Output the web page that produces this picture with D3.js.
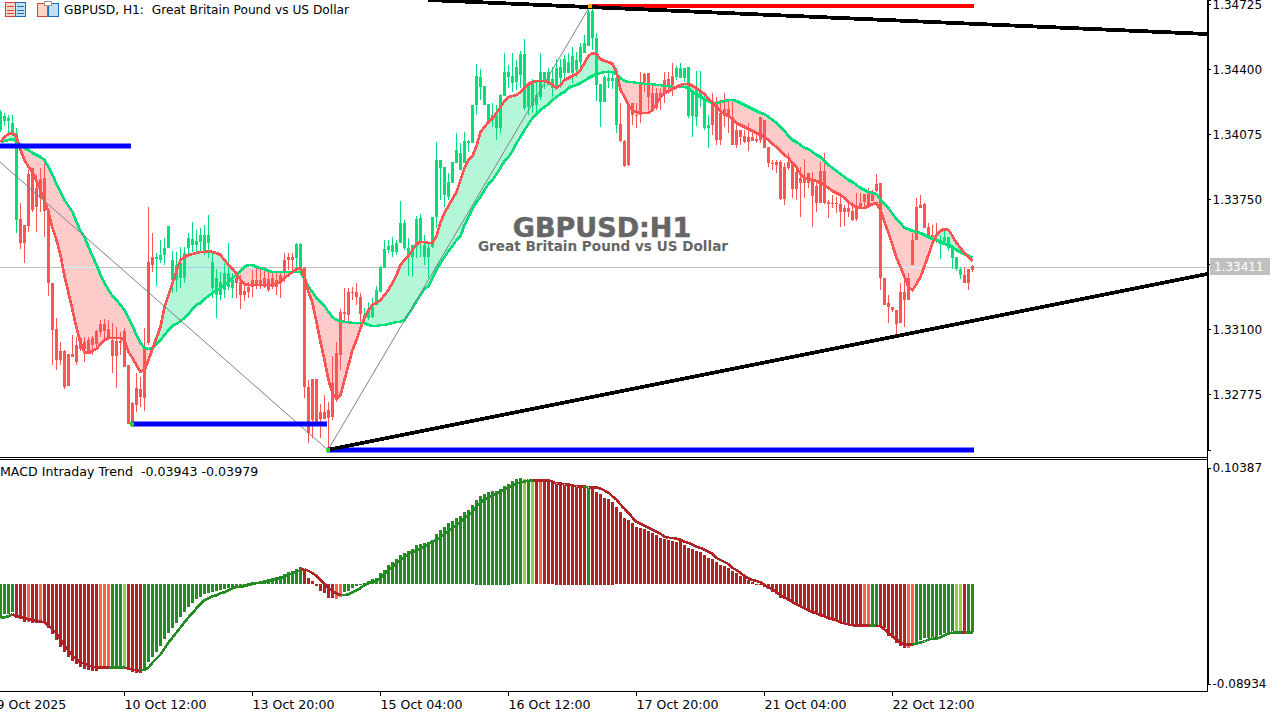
<!DOCTYPE html>
<html>
<head>
<meta charset="utf-8">
<title>GBPUSD H1</title>
<script src="https://d3js.org/d3.v7.min.js"></script>
<style>
  body { margin: 0; background: #fff; overflow: hidden; }
  svg { display: block; }
  text { font-family: "DejaVu Sans", sans-serif; font-size: 12px; fill: #000; white-space: pre; }
  .axis path, .axis line { stroke: #000; shape-rendering: crispEdges; }
  .axis text { font-family: "DejaVu Sans", sans-serif; font-size: 12px; fill: #000; }
</style>
</head>
<body>
<svg id="chart"></svg>
<script>
// price values are in points, 34725 means 1.34725
const highs = [
  34197,34182,34172,34172,34107,33732,33622,33897,33907,33872,33907,33957,33697,33332,33157,33037,
  32997,32977,33072,33062,33062,33062,33062,33067,33097,33147,33152,33147,33132,33112,33087,33107,
  32922,32737,32882,32862,33107,33712,33582,33482,33547,33557,33617,33492,33487,33512,33512,33582,
  33637,33597,33607,33622,33672,33482,33402,33387,33432,33532,33382,33392,33372,33337,33337,33397,
  33412,33412,33412,33402,33387,33387,33382,33482,33482,33482,33532,33532,33412,32847,32852,32852,
  32727,32772,32737,32967,33037,33202,33307,33307,33312,33332,33282,33207,33237,33257,33317,33417,
  33547,33547,33562,33547,33742,33647,33557,33522,33667,33677,33572,33537,33662,34037,33947,33912,
  33882,33937,34082,34032,34087,34047,34222,34427,34402,34317,34227,34232,34222,34277,34482,34422,
  34482,34447,34492,34552,34322,34352,34337,34482,34387,34407,34412,34452,34452,34472,34482,34512,
  34487,34532,34572,34697,34722,34582,34327,34372,34397,34382,34407,34232,34047,34227,34232,34232,
  34387,34382,34382,34332,34307,34307,34387,34387,34432,34417,34432,34407,34412,34297,34392,34392,
  34272,34172,34282,34262,34247,34282,34247,34237,34122,34097,34097,34132,34097,34072,34162,34147,
  34012,33947,33947,33947,33932,33982,33937,33912,33912,33952,33882,33887,33847,33937,33982,33747,
  33772,33762,33772,33722,33737,33737,33782,33782,33777,33807,33797,33877,33832,33357,33272,33212,
  33197,33332,33382,33382,33582,33757,33772,33732,33632,33622,33632,33572,33597,33562,33517,33462,
  33412,33412,33402,33422
];
const bodyTops = [
  34187,34167,34157,34132,34082,33652,33622,33877,33907,33807,33852,33857,33697,33332,33102,32992,
  32992,32977,32977,33022,33057,33037,33047,33057,33092,33127,33127,33102,33047,33042,33042,33092,
  32922,32732,32807,32802,33012,33437,33462,33462,33472,33507,33617,33447,33422,33432,33482,33557,
  33552,33542,33572,33572,33572,33437,33357,33337,33382,33382,33347,33357,33337,33292,33312,33347,
  33347,33347,33357,33352,33357,33347,33372,33447,33462,33462,33527,33527,33407,32812,32852,32852,
  32687,32687,32697,32832,32982,33187,33187,33287,33287,33287,33262,33172,33197,33212,33297,33412,
  33502,33517,33522,33532,33632,33632,33507,33522,33652,33657,33522,33507,33662,33947,33947,33912,
  33837,33937,33997,33982,34042,34042,34222,34367,34362,34317,34227,34172,34172,34272,34387,34387,
  34367,34412,34477,34477,34322,34337,34272,34387,34387,34387,34352,34407,34412,34452,34437,34467,
  34447,34512,34532,34687,34692,34557,34327,34362,34357,34357,34357,34127,34042,34227,34232,34172,
  34332,34377,34382,34282,34282,34282,34347,34352,34367,34407,34407,34407,34412,34297,34307,34292,
  34257,34122,34232,34237,34182,34202,34202,34162,34097,34097,34067,34062,34062,34052,34162,34147,
  34012,33932,33937,33937,33912,33937,33932,33887,33857,33857,33882,33842,33817,33892,33892,33737,
  33732,33732,33727,33707,33707,33692,33712,33732,33777,33777,33777,33827,33832,33357,33232,33212,
  33197,33287,33287,33357,33547,33712,33722,33727,33612,33572,33572,33547,33562,33562,33512,33462,
  33402,33372,33402,33417
];
const bodyBottoms = [
  34097,34142,34142,34082,33647,33532,33532,33617,33697,33712,33757,33692,33332,33097,32947,32947,
  32812,32817,32962,32937,33002,33002,32982,33022,33027,33087,33092,33062,32967,32967,33032,32912,
  32627,32627,32722,32762,32757,33032,33422,33452,33447,33472,33507,33347,33347,33357,33357,33507,
  33522,33522,33537,33492,33532,33307,33272,33272,33297,33312,33307,33332,33272,33272,33287,33312,
  33322,33322,33312,33297,33312,33312,33337,33382,33447,33447,33457,33407,32812,32582,32647,32637,
  32652,32652,32657,32662,32747,32972,33177,33172,33282,33262,33177,33157,33157,33162,33222,33287,
  33407,33497,33487,33487,33532,33507,33462,33462,33512,33532,33462,33462,33512,33662,33907,33772,
  33762,33832,33932,33897,33932,34032,34032,34222,34312,34222,34127,34147,34107,34107,34267,34362,
  34332,34337,34372,34207,34212,34217,34222,34262,34347,34322,34307,34312,34357,34382,34382,34382,
  34397,34437,34482,34517,34557,34322,34237,34237,34342,34342,34122,34042,33917,33922,34172,34167,
  34172,34337,34262,34197,34207,34257,34277,34322,34322,34362,34357,34357,34167,34167,34162,34257,
  34107,34107,34122,34047,34047,34167,34162,34022,34022,34062,34037,34037,34042,34042,34047,34007,
  33932,33927,33922,33752,33752,33907,33802,33802,33832,33832,33832,33767,33732,33732,33732,33727,
  33727,33727,33687,33687,33687,33647,33652,33712,33737,33722,33742,33792,33357,33222,33212,33197,
  33127,33132,33247,33247,33422,33547,33707,33607,33562,33562,33567,33527,33537,33507,33457,33402,
  33372,33332,33332,33397
];
const lows = [
  34087,34117,34082,34067,33582,33502,33432,33587,33687,33587,33687,33562,33267,32922,32897,32922,
  32802,32817,32962,32922,32992,32937,32982,32972,33012,33062,33047,33057,32882,32807,32972,32912,
  32627,32627,32687,32712,32692,33022,33387,33317,33432,33422,33507,33282,33287,33307,33332,33462,
  33487,33482,33487,33472,33457,33257,33157,33247,33257,33297,33257,33257,33202,33242,33257,33262,
  33302,33302,33307,33287,33302,33272,33257,33337,33397,33382,33397,33387,32757,32532,32557,32637,
  32557,32652,32497,32647,32737,32897,33132,33127,33247,33222,33137,33132,33147,33157,33222,33287,
  33407,33482,33462,33472,33532,33497,33367,33362,33457,33462,33422,33357,33507,33607,33747,33712,
  33747,33832,33932,33897,33932,33987,34032,34172,34247,34222,34127,34112,34047,34082,34267,34307,
  34287,34297,34307,34197,34172,34182,34167,34247,34302,34322,34262,34312,34307,34337,34382,34332,
  34362,34412,34482,34517,34497,34242,34112,34237,34307,34302,34082,34037,33912,33917,34122,34107,
  34132,34287,34197,34187,34197,34197,34232,34277,34267,34347,34357,34337,34157,34062,34117,34212,
  34097,34007,34072,34022,34022,34112,34082,34022,34007,34022,34032,33992,34042,34032,34032,34007,
  33912,33897,33882,33747,33722,33897,33757,33747,33662,33757,33807,33612,33687,33732,33727,33657,
  33707,33682,33612,33617,33662,33642,33642,33707,33712,33712,33742,33787,33297,33222,33132,33187,
  33072,33132,33112,33247,33422,33547,33707,33607,33562,33557,33532,33452,33537,33492,33402,33392,
  33352,33332,33297,33387
];
// bar index where the candle colour flips, starts green
const trendFlips = [5, 39, 59, 74, 76, 91, 155, 169, 178, 235, 241];

const fastLine = [
  34037,34062,34077,34082,34062,33997,33947,33912,33887,33842,33797,33742,33687,33607,33547,33472,
  33367,33282,33197,33107,33032,32987,32982,32992,33002,33027,33047,33057,33057,33057,33057,33047,
  32987,32957,32922,32887,32897,32947,33002,33057,33112,33212,33272,33332,33392,33447,33462,33472,
  33477,33482,33487,33487,33492,33487,33482,33472,33447,33422,33402,33377,33347,33327,33322,33322,
  33322,33322,33322,33322,33322,33327,33337,33357,33372,33387,33402,33407,33362,33287,33232,33137,
  33037,32947,32847,32782,32752,32772,32847,32922,32997,33047,33107,33157,33197,33222,33232,33247,
  33272,33297,33332,33372,33422,33447,33467,33497,33527,33537,33537,33532,33532,33567,33637,33682,
  33717,33752,33787,33847,33907,33947,33967,34017,34087,34112,34137,34157,34182,34212,34242,34262,
  34267,34272,34287,34307,34327,34337,34342,34342,34342,34337,34322,34307,34322,34347,34357,34367,
  34377,34397,34432,34467,34482,34477,34452,34442,34437,34427,34387,34297,34262,34222,34192,34187,
  34182,34182,34182,34197,34227,34262,34282,34292,34302,34312,34322,34327,34327,34317,34307,34292,
  34277,34252,34237,34212,34192,34177,34167,34152,34132,34122,34112,34102,34092,34082,34072,34062,
  34047,34027,34012,33992,33972,33957,33932,33912,33877,33857,33852,33847,33842,33832,33822,33807,
  33792,33782,33772,33757,33737,33722,33712,33707,33707,33717,33727,33732,33697,33637,33582,33522,
  33457,33412,33362,33312,33297,33327,33362,33417,33472,33532,33572,33592,33602,33597,33567,33532,
  33507,33482,33462,33442
];
const slowLine = [
  34037,34042,34047,34052,34042,34022,34007,33997,33982,33972,33962,33947,33912,33872,33827,33787,
  33747,33717,33687,33637,33592,33562,33512,33467,33422,33372,33332,33297,33267,33247,33222,33197,
  33157,33117,33072,33032,33007,33002,33007,33027,33047,33072,33097,33117,33127,33142,33157,33177,
  33202,33222,33232,33252,33267,33282,33292,33307,33322,33337,33357,33372,33392,33412,33422,33422,
  33412,33407,33402,33392,33387,33387,33387,33387,33387,33387,33387,33387,33352,33312,33287,33257,
  33237,33217,33187,33162,33147,33142,33137,33137,33132,33132,33132,33132,33122,33117,33117,33122,
  33122,33127,33132,33137,33137,33147,33177,33207,33242,33272,33302,33317,33357,33397,33432,33462,
  33492,33517,33547,33567,33622,33662,33702,33737,33762,33797,33827,33847,33877,33907,33942,33962,
  33992,34032,34062,34097,34127,34157,34177,34197,34212,34227,34247,34262,34277,34287,34307,34317,
  34322,34332,34342,34357,34367,34377,34382,34387,34387,34387,34377,34357,34342,34337,34337,34332,
  34332,34327,34327,34327,34322,34322,34317,34317,34312,34312,34312,34312,34307,34287,34272,34262,
  34252,34242,34232,34232,34237,34242,34247,34247,34242,34232,34222,34212,34202,34192,34182,34177,
  34162,34147,34132,34112,34092,34067,34047,34037,34022,34007,34002,33987,33972,33962,33942,33922,
  33907,33892,33877,33862,33847,33837,33822,33807,33797,33787,33782,33777,33747,33727,33707,33677,
  33652,33632,33607,33602,33592,33587,33582,33572,33562,33552,33547,33537,33527,33522,33512,33497,
  33487,33477,33467,33457
];

const lastPrice = 33411;
const priceTicks = [34725, 34400, 34075, 33750, 33425, 33100, 32775];
const timeTickBars = [-1, 31, 63, 95, 127, 159, 191, 223];
const timeTickLabels = ["9 Oct 2025", "10 Oct 12:00", "13 Oct 20:00", "15 Oct 04:00", "16 Oct 12:00", "17 Oct 20:00", "21 Oct 04:00", "22 Oct 12:00"];

// drawn objects, bar index and price
const blueLevels = [[-1, 32.75, 34017], [32.75, 81.75, 32627], [81.75, 243.5, 32497]];
const redLevels = [[147.5, 243.5, 34717]];
const trendLines = [[107, 34747, 301.75, 34577], [81.75, 32497, 301.75, 33377]];
const zigzagBars = [0, 82, 147.5];
const zigzagPrices = [33937, 32497, 34717];

// macd panel, values x 0.001
const histValues = [
  -30.6,-27,-27,-25.2,-30.6,-31.5,-34.2,-34.2,-35.1,-35.1,-34.2,-35.1,-39.6,-45,-50.4,-56.7,
  -61.2,-65.7,-69.3,-72,-73.8,-75.6,-76.5,-77.4,-77.4,-75.6,-75.6,-75.6,-74.7,-74.7,-74.7,-74.7,
  -76.5,-78.3,-79.2,-79.2,-76.5,-70.2,-65.7,-61.2,-55.8,-49.5,-44.1,-39.6,-35.1,-29.7,-25.2,-20.7,
  -17.1,-13.5,-11.7,-9,-8.1,-7.2,-6.3,-5.4,-4.5,-3.6,-2.7,-2.7,-1.8,-0.9,0.9,1.8,
  1.8,2.7,3.6,4.5,5.4,6.3,7.2,9,10.8,11.7,13.5,15.3,13.5,5.4,2.7,-1.8,
  -6.3,-8.1,-12.6,-12.6,-13.5,-11.7,-7.2,-6.3,-3.6,-1.8,-0.9,0.9,2.7,4.5,5.4,9.9,
  12.6,17.1,19.8,22.5,26.1,27.9,29.7,31.5,35.1,36,36.9,37.8,39.6,45,48.6,51.3,
  54.9,56.7,59.4,61.2,64.8,66.6,71.1,75.6,79.2,81,82.8,83.7,83.7,85.5,88.2,90,
  91.8,93.6,94.5,93.6,92.7,92.7,92.7,92.7,91.8,91.8,90.9,90,89.1,89.1,88.2,87.3,
  87.3,86.4,86.4,86.4,86.4,82.8,81,77.4,76.5,73.8,69.3,64.8,59.4,57.6,54.9,51.3,
  50.4,49.5,47.7,45.9,44.1,41.4,40.5,39.6,38.7,37.8,38.7,35.1,32.4,31.5,29.7,28.8,
  26.1,23.4,22.5,19.8,17.1,16.2,14.4,11.7,9.9,7.2,6.3,3.6,1.8,0.3,-0.3,-2.7,
  -4.5,-7.2,-9,-12.6,-13.5,-15.3,-16.2,-18.9,-20.7,-22.5,-23.4,-25.2,-27,-27.9,-29.7,-30.6,
  -32.4,-32.4,-34.2,-35.1,-36,-37.8,-37.8,-38.7,-36.9,-36.9,-36.9,-36.9,-38.7,-39.6,-46.8,-48.6,
  -53.1,-55.8,-57.6,-57.6,-54.9,-53.1,-50.4,-48.6,-48.6,-47.7,-47.7,-45.9,-44.1,-43.2,-42.3,-42.3,
  -42.3,-43.2,-43.2,-43.2
];
const signalValues = [
  -30.6,-29.7,-28.8,-27,-28.8,-29.7,-30.6,-31.5,-32.4,-33.3,-33.3,-34.2,-36.9,-40.5,-44.1,-49.5,
  -54.9,-59.4,-63.9,-67.5,-70.2,-71.1,-72.9,-73.8,-74.7,-74.7,-74.7,-74.7,-74.7,-74.7,-74.7,-74.7,
  -75.6,-76.5,-77.4,-77.4,-76.5,-74.7,-70.2,-66.6,-63,-57.6,-52.2,-47.7,-43.2,-38.7,-34.2,-29.7,
  -26.1,-21.6,-18,-14.4,-12.6,-10.8,-9.9,-8.1,-7.2,-5.4,-3.6,-2.7,-2.7,-1.8,-0.9,0,
  0.9,0.9,1.8,2.7,3.6,4.5,5.4,7.2,8.1,9.9,10.8,12.6,13.5,11.7,9.9,7.2,
  3.6,0,-3.6,-6.3,-8.1,-9.9,-9.9,-9,-7.2,-5.4,-3.6,-0.9,0.9,1.8,3.6,5.4,
  9,12.6,15.3,18.9,21.6,24.3,27,28.8,29.7,32.4,33.3,36,37.8,39.6,42.3,45,
  47.7,50.4,53.1,55.8,59.4,62.1,64.8,69.3,72.9,75.6,77.4,79.2,81,82.8,84.6,86.4,
  88.2,90,90.9,91.8,92.7,92.7,92.7,92.7,92.7,92.7,91.8,90,90,89.1,89.1,88.2,
  87.3,87.3,87.3,86.4,86.4,86.4,85.5,83.7,81.9,78.3,75.6,71.1,67.5,63.9,59.4,55.8,
  54,52.2,50.4,48.6,46.8,45,42.3,41.4,41.4,40.5,39.6,37.8,36.9,35.1,33.3,32.4,
  30.6,28.8,27,23.4,21.6,19.8,18,14.4,12.6,9.9,7.2,5.4,3.6,2.7,1.8,-0.9,
  -2.7,-4.5,-7.2,-9.9,-11.7,-13.5,-16.2,-18,-19.8,-21.6,-23.4,-25.2,-26.1,-27.9,-28.8,-30.6,
  -31.5,-32.4,-34.2,-35.1,-36,-36.9,-36.9,-36.9,-36.9,-36.9,-36.9,-36.9,-37.8,-40.5,-43.2,-46.8,
  -49.5,-52.2,-54,-54,-54,-53.1,-52.2,-51.3,-49.5,-48.6,-48.6,-47.7,-45.9,-44.1,-43.2,-43.2,
  -43.2,-43.2,-43.2,-43.2
];
// colour runs of the histogram: code, number of bars
const histColorRuns = [
  ["g",4],["r",3],["t",1],["r",2],["t",1],["r",14],["t",3],["g",3],["y",1],["r",4],["g",40],["r",8],["t",2],
  ["g",45],["y",1],["g",1],["y",1],["r",1],["t",1],["r",11],["g",1],["r",68],["t",2],["g",2],["r",7],["t",2],
  ["g",10],["y",2],["r",1],["g",2]
];
const histTicks = [103.87, -89.34];

const w = 1284;
const h = 718;
const plotRight = 1207;
const upColor = "#00DF7B";
const downColor = "#FF5454";
const upFill = "#B3F6D8";
const downFill = "#FFCBCB";
const histColors = {g: "#228B22", y: "#9ACD32", r: "#B22222", t: "#FF6347"};

const svg = d3.select("#chart").attr("width", w).attr("height", h);

// bar index 0 sits at x=0, one bar is 4px
const xScale = d3.scaleLinear().domain([0, 243]).range([0, 972]);
const yScale = d3.scaleLinear().domain([34747, 32497]).range([0, 450]);
const macdScale = d3.scaleLinear().domain([-89.34, 103.87]).range([684, 468]);

const bars = d3.range(highs.length);

function isUp(i) {
  return trendFlips.filter((f) => f <= i).length % 2 == 0;
}

var histCodes = [];
histColorRuns.forEach((run) => {
  for (var k = 0; k < run[1]; k++) histCodes.push(run[0]);
});

// top panel gets clipped at the separator
svg.append("clipPath").attr("id", "top-clip")
   .append("rect").attr("width", plotRight).attr("height", 457);

const main = svg.append("g").attr("clip-path", "url(#top-clip)");

// cloud between the two averages
const upArea = d3.area()
                 .x((i) => xScale(i))
                 .y0((i) => yScale(slowLine[i]))
                 .y1((i) => yScale(Math.max(fastLine[i], slowLine[i])));
const downArea = d3.area()
                   .x((i) => xScale(i))
                   .y0((i) => yScale(slowLine[i]))
                   .y1((i) => yScale(Math.min(fastLine[i], slowLine[i])));

// price line, it shows pale where it runs through the cloud
const priceY = Math.round(yScale(lastPrice)) + 0.5;
svg.append("clipPath").attr("id", "up-clip").append("path").attr("d", upArea(bars));
svg.append("clipPath").attr("id", "down-clip").append("path").attr("d", downArea(bars));
main.append("line")
    .attr("x1", 0).attr("x2", plotRight)
    .attr("y1", priceY).attr("y2", priceY)
    .attr("stroke", "#C0C0C0")
    .attr("shape-rendering", "crispEdges");
main.append("path").attr("d", upArea(bars)).attr("fill", upFill);
main.append("path").attr("d", downArea(bars)).attr("fill", downFill);
[["up-clip", "#A8C8F8"], ["down-clip", "#C8F4F4"]].forEach((c) => {
  main.append("g").attr("clip-path", "url(#" + c[0] + ")")
      .append("line")
      .attr("x1", 0).attr("x2", plotRight)
      .attr("y1", priceY).attr("y2", priceY)
      .attr("stroke", c[1])
      .attr("shape-rendering", "crispEdges");
});

// candles
const candles = main.append("g").selectAll("g")
    .data(bars)
    .enter()
    .append("g")
    .attr("shape-rendering", "crispEdges");
candles.append("rect")
       .attr("x", (i) => xScale(i))
       .attr("width", 1)
       .attr("y", (i) => Math.round(yScale(highs[i])))
       .attr("height", (i) => Math.max(1, Math.round(yScale(lows[i])) - Math.round(yScale(highs[i]))))
       .attr("fill", (i) => isUp(i) ? upColor : downColor);
candles.append("rect")
       .attr("x", (i) => xScale(i) - 1)
       .attr("width", 3)
       .attr("y", (i) => Math.round(yScale(bodyTops[i])))
       .attr("height", (i) => Math.max(1, Math.round(yScale(bodyBottoms[i])) - Math.round(yScale(bodyTops[i]))))
       .attr("fill", (i) => isUp(i) ? upColor : downColor);

// averages on top
const fastPath = d3.line().x((i) => xScale(i) + 0.5).y((i) => yScale(fastLine[i]));
const slowPath = d3.line().x((i) => xScale(i) + 0.5).y((i) => yScale(slowLine[i]));
main.append("path").attr("d", slowPath(bars)).attr("fill", "none")
    .attr("stroke", upColor).attr("stroke-width", 2.7).attr("shape-rendering", "crispEdges");
main.append("path").attr("d", fastPath(bars)).attr("fill", "none")
    .attr("stroke", downColor).attr("stroke-width", 2.7).attr("shape-rendering", "crispEdges");

// zigzag
const zigzag = d3.line().x((d) => xScale(d[0])).y((d) => yScale(d[1]));
main.append("path")
    .attr("d", zigzag(d3.zip(zigzagBars, zigzagPrices)))
    .attr("fill", "none")
    .attr("stroke", "#808080")
    .attr("stroke-width", 1);

// levels and trend lines
main.selectAll(".blue-level")
    .data(blueLevels)
    .enter()
    .append("rect")
    .attr("x", (d) => xScale(d[0]))
    .attr("width", (d) => xScale(d[1]) - xScale(d[0]))
    .attr("y", (d) => yScale(d[2]) - 2.5)
    .attr("height", 5)
    .attr("fill", "#0000FF");
main.selectAll(".red-level")
    .data(redLevels)
    .enter()
    .append("rect")
    .attr("x", (d) => xScale(d[0]))
    .attr("width", (d) => xScale(d[1]) - xScale(d[0]))
    .attr("y", (d) => yScale(d[2]) - 2)
    .attr("height", 4)
    .attr("fill", "#FF0000");
main.selectAll(".trend-line")
    .data(trendLines)
    .enter()
    .append("line")
    .attr("x1", (d) => xScale(d[0]))
    .attr("y1", (d) => yScale(d[1]))
    .attr("x2", (d) => xScale(d[2]))
    .attr("y2", (d) => yScale(d[3]))
    .attr("stroke", "#000")
    .attr("stroke-width", 3.8)
    .attr("shape-rendering", "crispEdges");

// pivot dots
main.append("rect").attr("x", xScale(33) - 2).attr("y", yScale(32627) - 2).attr("width", 4).attr("height", 4).attr("fill", "#32CD32");
main.append("rect").attr("x", xScale(82) - 2).attr("y", yScale(32497) - 2).attr("width", 4).attr("height", 4).attr("fill", "#32CD32");
main.append("rect").attr("x", xScale(147.5) - 2).attr("y", yScale(34717) - 2).attr("width", 4).attr("height", 4).attr("fill", "#FFA500");

// watermark
main.append("text")
    .attr("x", 602).attr("y", 237)
    .attr("text-anchor", "middle")
    .style("font-family", "'DejaVu Sans', sans-serif")
    .style("font-weight", "bold")
    .style("font-size", "27px")
    .style("fill", "#666")
    .style("stroke", "#666")
    .style("stroke-width", "0.5px")
    .text("GBPUSD:H1");
main.append("text")
    .attr("x", 603).attr("y", 251)
    .attr("text-anchor", "middle")
    .style("font-family", "'DejaVu Sans', sans-serif")
    .style("font-weight", "bold")
    .style("font-size", "13.6px")
    .style("fill", "#666")
    .text("Great Britain Pound vs US Dollar");

// macd panel
const macdZero = macdScale(0);
svg.append("g").selectAll("rect")
   .data(bars)
   .enter()
   .append("rect")
   .attr("x", (i) => xScale(i) - 1)
   .attr("width", 3)
   .attr("y", (i) => Math.round(Math.min(macdScale(histValues[i]), macdZero)))
   .attr("height", (i) => Math.max(1, Math.round(Math.abs(macdScale(histValues[i]) - macdZero))))
   .attr("fill", (i) => histColors[histCodes[i]])
   .attr("shape-rendering", "crispEdges");

// signal line, colour follows the histogram family
const signalPath = d3.line().x((i) => xScale(i) + 0.5).y((i) => macdScale(signalValues[i]));
svg.append("g").selectAll("path")
   .data(bars.slice(1))
   .enter()
   .append("path")
   .attr("d", (i) => signalPath([i - 1, i]))
   .attr("fill", "none")
   .attr("stroke", (i) => (histCodes[i] == "g" || histCodes[i] == "y") ? histColors.g : histColors.r)
   .attr("stroke-width", 2.6)
   .attr("shape-rendering", "crispEdges");

// frame
[457.5, 459.5].forEach((yy) => {
  svg.append("line").attr("x1", 0).attr("x2", plotRight).attr("y1", yy).attr("y2", yy)
     .attr("stroke", "#000").attr("shape-rendering", "crispEdges");
});

// axes
const priceAxis = d3.axisRight(yScale)
                    .tickValues(priceTicks)
                    .tickSize(3)
                    .tickPadding(2)
                    .tickFormat((d) => d == 33425 ? "" : (1 + d / 100000).toFixed(5));
svg.append("g").attr("class", "axis")
   .attr("transform", "translate(" + (plotRight + 0.5) + ",0)")
   .call(priceAxis);

const macdAxis = d3.axisRight(macdScale)
                   .tickValues(histTicks)
                   .tickSize(3)
                   .tickPadding(2)
                   .tickFormat((d) => (d / 1000).toFixed(5));
svg.append("g").attr("class", "axis")
   .attr("transform", "translate(" + (plotRight + 0.5) + ",0)")
   .call(macdAxis);

svg.append("line").attr("x1", plotRight + 0.5).attr("x2", plotRight + 0.5).attr("y1", 0).attr("y2", 692)
   .attr("stroke", "#000").attr("shape-rendering", "crispEdges");

const timeAxis = d3.axisBottom(xScale)
                   .tickValues(timeTickBars)
                   .tickSize(4)
                   .tickPadding(5)
                   .tickFormat((d, i) => timeTickLabels[i]);
const timeG = svg.append("g").attr("class", "axis")
   .attr("transform", "translate(0,691.5)")
   .call(timeAxis);
timeG.select(".domain").attr("d", "M0,0H" + plotRight);
timeG.selectAll("text").attr("text-anchor", "start").style("font-size", "12.6px");

// last price tag
svg.append("rect").attr("x", 1210).attr("y", 258).attr("width", 60).attr("height", 17).attr("fill", "#C0C0C0");
svg.append("text").attr("x", 1214).attr("y", 271)
   .style("fill", "#fff")
   .text((1 + lastPrice / 100000).toFixed(5));

// captions
svg.append("text").attr("x", 64).attr("y", 14).style("font-size", "12.2px").text("GBPUSD, H1:  Great Britain Pound vs US Dollar");
svg.append("text").attr("x", 0).attr("y", 476).style("font-size", "12.6px").text("MACD Intraday Trend  -0.03943 -0.03979");

// the two little toolbar icons
const icons = svg.append("g").attr("shape-rendering", "crispEdges");
icons.append("rect").attr("x", 5.5).attr("y", 2.5).attr("width", 10).attr("height", 14).attr("fill", "#FBD5C8").attr("stroke", "#D9432F").attr("stroke-width", 1.5);
icons.append("rect").attr("x", 15.5).attr("y", 2.5).attr("width", 10).attr("height", 14).attr("fill", "#BFE0F7").attr("stroke", "#1F6FB8").attr("stroke-width", 1.5);
[6.5, 10.5, 13.5].forEach((yy) => {
  icons.append("line").attr("x1", 7).attr("x2", 14).attr("y1", yy).attr("y2", yy).attr("stroke", "#D9432F");
  icons.append("line").attr("x1", 17).attr("x2", 24).attr("y1", yy).attr("y2", yy).attr("stroke", "#1F6FB8");
});
icons.append("rect").attr("x", 37.5).attr("y", 3.5).attr("width", 10).attr("height", 13).attr("fill", "#FBD5C8").attr("stroke", "#D9432F").attr("stroke-width", 1.5);
icons.append("rect").attr("x", 48.5).attr("y", 3.5).attr("width", 10).attr("height", 13).attr("fill", "#BFE0F7").attr("stroke", "#1F6FB8").attr("stroke-width", 1.5);
icons.append("rect").attr("x", 44.5).attr("y", 1.5).attr("width", 7).attr("height", 4).attr("fill", "#fff").attr("stroke", "#999");
</script>
</body>
</html>
